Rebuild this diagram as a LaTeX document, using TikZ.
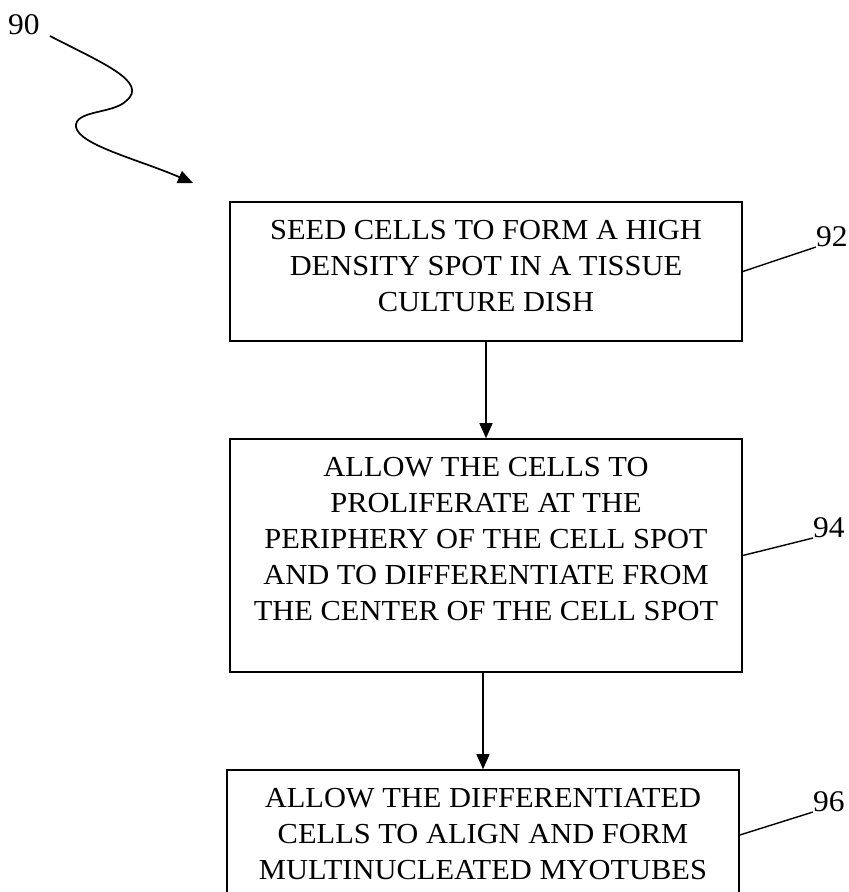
\documentclass[tikz,border=0pt]{standalone}
\usepackage{fontspec}
\setmainfont[FakeStretch=1.05]{Liberation Serif}
\usetikzlibrary{positioning,arrows.meta}
\tikzset{
  stepbox/.style={draw, line width=1.6pt, minimum width=512pt, inner sep=0pt},
  steptext/.style={align=center, inner sep=0pt, font=\fontsize{29}{36}\selectfont},
  reflabel/.style={inner sep=0pt, font=\fontsize{30}{36}\selectfont},
  leader/.style={line width=1.4pt}
}
\begin{document}
\begin{tikzpicture}[x=1pt,y=-1pt,>={Triangle[length=15pt,width=13pt]}]
   \useasboundingbox (0,0) rectangle (849,892);
   \clip (0,0) rectangle (849,892);
   % the three steps
   \node[stepbox, minimum height=139pt] (s92) at (486,271.5) {};
   \node[stepbox, minimum height=233pt] (s94) at (486,555.5) {};
   \node[stepbox, minimum height=130pt] (s96) at (483,835) {};
   \node[steptext, below=19pt of s92.north] (t92) {SEED CELLS TO FORM A HIGH\\DENSITY SPOT IN A TISSUE\\CULTURE DISH};
   \node[steptext, below=19pt of s94.north] (t94) {ALLOW THE CELLS TO\\PROLIFERATE AT THE\\PERIPHERY OF THE CELL SPOT\\AND TO DIFFERENTIATE FROM\\THE CENTER OF THE CELL SPOT};
   \node[steptext, below=19pt of s96.north] (t96) {ALLOW THE DIFFERENTIATED\\CELLS TO ALIGN AND FORM\\MULTINUCLEATED MYOTUBES};
   \draw [->, line width=1.3pt] (s92) -- (s94);
   \draw [->, line width=1.3pt] (s96.north |- s94.south) -- (s96.north);
   % reference numerals
   \node[reflabel, anchor=south west] (n92) at (816,247) {92};
   \node[reflabel, anchor=south west] (n94) at (813,538) {94};
   \node[reflabel, anchor=south west] (n96) at (813,812) {96};
   \draw [leader] (s92.east) -- (n92.south west);
   \draw [leader] (s94.east) -- (n94.south west);
   \draw [leader] (s96.east) -- (n96.south west);
   \node[reflabel] (n90) at (24,25) {90};
   \coordinate (a90) at (50,36);
   \coordinate (b90) at (193,183);
   \draw [->, line width=1.7pt] (a90) .. controls (100,62) and (150,82) .. (126,101)
      .. controls (113,114) and (74,110) .. (76,127)
      .. controls (79,145) and (140,160) .. (b90);
\end{tikzpicture}
\end{document}
